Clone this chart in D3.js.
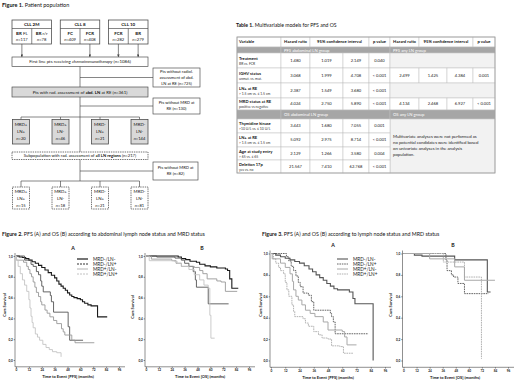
<!DOCTYPE html>
<html>
<head>
<meta charset="utf-8">
<script src="https://cdn.jsdelivr.net/npm/d3@7"></script>
<style>
  html, body { margin: 0; padding: 0; background: #fff; }
  svg { display: block; font-family: Lato, 'Open Sans', 'Liberation Sans', sans-serif; }
  text { white-space: pre; }
</style>
</head>
<body>
<svg id="fig" width="520" height="384"></svg>
<script>
// ---- Figure 1: patient flow ----
const trials = ['CLL 2M', 'CLL 8', 'CLL 10'];
const arms = [
  { trial: 'CLL 2M', arm: 'BR', extra: ' FL', n: 117, included: true },
  { trial: 'CLL 2M', arm: 'BR', extra: ' r/r', n: 78, included: false },
  { trial: 'CLL 8', arm: 'FC', extra: '', n: 409, included: false },
  { trial: 'CLL 8', arm: 'FCR', extra: '', n: 408, included: true },
  { trial: 'CLL 10', arm: 'FCR', extra: '', n: 282, included: true },
  { trial: 'CLL 10', arm: 'BR', extra: '', n: 279, included: true },
];
const firstLineN = 1086;
const excludedSteps = [
  ['Pts without radiol.', 'assessment of abd.', 'LN at RE (n=725)'],
  ['Pts without MRD at', 'RE (n=130)'],
  ['Pts without MRD at', 'RE (n=82)'],
];
const abdN = 361;
const allN = 217;
const groupLabels = [['MRD+', 'LN+'], ['MRD+', 'LN-'], ['MRD-', 'LN+'], ['MRD-', 'LN-']];
const abdGroupN = [20, 46, 21, 144];
const allGroupN = [15, 18, 21, 81];

// ---- Table 1 ----
const tableHeader = ['Variable', 'Hazard ratio', '95% confidence interval', 'p value'];
const pfsBlock = ['PFS abdominal LN group', 'PFS any LN group'];
const pfsRows = [
  { name: 'Treatment', sub: 'BR vs. FCR', abd: ['1.480', '1.019', '2.149', '0.040'], any: null },
  { name: 'IGHV status', sub: 'unmut. vs. mut.', abd: ['3.068', '1.999', '4.708', '< 0.001'], any: ['2.499', '1.425', '4.384', '0.001'] },
  { name: 'LN+ at RE', sub: '> 1.5 cm vs. \u2264 1.5 cm', abd: ['2.387', '1.549', '3.680', '< 0.001'], any: null },
  { name: 'MRD status at RE', sub: 'positive vs negative', abd: ['4.024', '2.750', '5.890', '< 0.001'], any: ['4.134', '2.468', '6.927', '< 0.001'] },
];
const osBlock = ['OS abdominal LN group', 'OS any LN group'];
const osRows = [
  { name: 'Thymidine kinase', sub: '>10 U/L vs. \u2264 10 U/L', abd: ['3.443', '1.680', '7.055', '0.001'] },
  { name: 'LN+ at RE', sub: '> 1.5 cm vs. \u2264 1.5 cm', abd: ['5.092', '2.975', '8.714', '< 0.001'] },
  { name: 'Age at study entry', sub: '> 65 vs. \u2264 65', abd: ['2.129', '1.266', '3.580', '0.004'] },
  { name: 'Deletion 17p', sub: 'yes vs. no', abd: ['21.567', '7.410', '62.768', '< 0.001'] },
];
const osAnyNote = ['Multivariate analyses were not performed as', 'no potential candidates were identified based',
  'on univariate analyses in the analysis', 'population.'];

// ---- Kaplan-Meier curves: [month, cumulative survival] ----
const groupNames = ['MRD-/LN-', 'MRD-/LN+', 'MRD+/LN-', 'MRD+/LN+'];
const monthTicks = [0, 12, 24, 36, 48, 60, 72, 84, 96];
const survTicks = [0, 0.2, 0.4, 0.6, 0.8, 1.0];

const fig2PfsNegNeg = [[0, 1], [3, 0.99], [6, 0.985], [9, 0.975], [12, 0.96], [15, 0.945], [18, 0.93], [21, 0.91], [24, 0.89], [27, 0.865], [30, 0.84], [33, 0.815], [36, 0.79], [38, 0.76], [40, 0.73], [42, 0.71], [44, 0.69], [46, 0.67], [48, 0.645], [50, 0.625], [52, 0.61], [54, 0.6], [57, 0.59], [60, 0.58], [62, 0.56], [64, 0.545], [67, 0.53], [70, 0.52], [76, 0.415], [85, 0.415]];
const fig2PfsNegPos = [[0, 1], [8, 0.96], [14, 0.92], [16, 0.9], [19, 0.85], [21, 0.82], [23, 0.76], [24, 0.71], [25.4, 0.655], [32, 0.62], [33, 0.56], [35, 0.46], [48.6, 0.32], [50, 0.19], [62.5, 0.19]];
const fig2PfsPosNeg = [[0, 1], [0.5, 0.96], [7, 0.94], [10, 0.9], [11.5, 0.87], [13, 0.83], [14.5, 0.8], [16, 0.75], [17.6, 0.7], [19, 0.65], [21, 0.61], [23, 0.56], [24, 0.53], [27, 0.48], [29, 0.45], [31.6, 0.415], [35, 0.38], [38, 0.35], [42.4, 0.3], [44, 0.27], [45.5, 0.24], [52, 0.19], [55, 0.166], [73, 0.166]];
const fig2PfsPosPos = [[0, 1], [0.5, 0.96], [2, 0.9], [4, 0.83], [6, 0.77], [8, 0.72], [10, 0.66], [12, 0.58], [13, 0.5], [14, 0.42], [15, 0.36], [16, 0.31], [18, 0.25], [20, 0.22], [22, 0.19], [25, 0.15], [28, 0.12], [31, 0.1], [34, 0.08], [38, 0.07], [42, 0.03], [42, 0.03]];

const fig2OsNegNeg = [[0, 1], [30, 0.99], [33, 0.975], [37, 0.965], [41, 0.95], [47, 0.94], [50, 0.92], [55, 0.905], [60, 0.895], [66, 0.885], [74, 0.875], [76, 0.86], [78, 0.78], [80, 0.69], [86, 0.69]];
const fig2OsNegPos = [[0, 1], [10, 0.99], [27, 0.98], [33, 0.96], [36, 0.93], [40, 0.9], [44, 0.85], [46, 0.77], [47, 0.7], [58, 0.54], [77, 0.54]];
const fig2OsPosNeg = [[0, 1], [5, 0.97], [24, 0.955], [28, 0.93], [33, 0.9], [45, 0.89], [50, 0.86], [53, 0.83], [57, 0.78], [66, 0.76], [70, 0.75], [74, 0.66], [85, 0.66]];
const fig2OsPosPos = [[0, 1], [3, 0.955], [26, 0.95], [29, 0.93], [33, 0.9], [40, 0.87], [45, 0.82], [50, 0.77], [54, 0.72], [58, 0.69], [59.5, 0.43], [60.5, 0.21], [64, 0.21]];

const fig3PfsNegNeg = [[0, 1], [4, 0.985], [8, 0.97], [12, 0.955], [16, 0.94], [20, 0.925], [24, 0.91], [28, 0.885], [32, 0.855], [35, 0.83], [38, 0.8], [41, 0.775], [44, 0.75], [47, 0.72], [50, 0.695], [53, 0.67], [56, 0.66], [66, 0.64], [69, 0.58], [70.7, 0.53], [86, 0.0], [86, 0.0]];
const fig3PfsNegPos = [[0, 1], [13, 0.97], [15, 0.93], [17, 0.88], [19, 0.84], [21, 0.79], [23, 0.73], [24.6, 0.69], [27, 0.63], [31.5, 0.61], [34, 0.55], [36, 0.47], [50, 0.44], [51, 0.41], [52.5, 0.36], [54, 0.25], [82, 0.25]];
const fig3PfsPosNeg = [[0, 1], [1, 0.95], [8, 0.91], [12, 0.87], [16, 0.81], [18, 0.74], [19, 0.66], [21, 0.6], [23, 0.565], [26, 0.52], [29, 0.47], [33, 0.44], [37, 0.41], [44, 0.36], [48, 0.285], [60, 0.27], [62, 0.22], [64, 0.146], [72, 0.146]];
const fig3PfsPosPos = [[0, 1], [2, 0.95], [4, 0.91], [6.4, 0.87], [8, 0.84], [10.6, 0.81], [12, 0.73], [13.4, 0.66], [15, 0.6], [17.6, 0.52], [19, 0.46], [20, 0.41], [27, 0.39], [29, 0.35], [31.5, 0.32], [36, 0.27], [40, 0.24], [43, 0.21], [48, 0.2], [51, 0.137], [58, 0.13], [61, 0.068], [69, 0.068]];

const fig3OsNegNeg = [[0, 1], [10, 0.985], [17, 0.975], [47, 0.94], [77, 0.64], [80, 0.64]];
const fig3OsNegPos = [[0, 1], [39, 0.94], [40, 0.84], [44, 0.8], [46, 0.78], [50, 0.72], [56, 0.625], [78, 0.625]];
const fig3OsPosNeg = [[0, 1], [24, 0.95], [47, 0.875], [56, 0.75], [84, 0.75]];
const fig3OsPosPos = [[0, 1], [36.6, 0.92], [56, 0.78], [71.6, 0.016], [71.6, 0.016]];

const INK = '#111';
const svg = d3.select('#fig');
svg.append('rect').attr('width', 520).attr('height', 384).attr('fill', '#fff');

// text with bold / italic runs
function rich(g, x, y, parts, opt = {}) {
  const t = g.append('text')
    .attr('x', x).attr('y', y)
    .attr('font-size', opt.size || 4.3)
    .attr('fill', opt.fill || INK)
    .attr('text-anchor', opt.anchor || 'start');
  if (opt.weight) t.attr('font-weight', opt.weight);
  if (typeof parts === 'string') parts = [[parts, '']];
  parts.forEach(([s, st]) => {
    const sp = t.append('tspan').text(s);
    if (st.includes('b')) sp.attr('font-weight', 'bold');
    if (st.includes('i')) sp.attr('font-style', 'italic');
  });
  return t;
}

function box(g, x, y, w, h, opt = {}) {
  return g.append('rect')
    .attr('x', x).attr('y', y).attr('width', w).attr('height', h)
    .attr('fill', opt.fill || '#fff')
    .attr('stroke', opt.stroke || '#444')
    .attr('stroke-width', opt.sw || 0.65)
    .attr('stroke-dasharray', opt.dash || null);
}

function line(g, x1, y1, x2, y2, arrow) {
  const l = g.append('line')
    .attr('x1', x1).attr('y1', y1).attr('x2', x2).attr('y2', y2)
    .attr('stroke', '#444').attr('stroke-width', 0.65);
  if (arrow) l.attr('marker-end', 'url(#arr)');
  return l;
}

svg.append('defs').append('marker')
  .attr('id', 'arr').attr('viewBox', '0 0 6 6').attr('refX', 6).attr('refY', 3)
  .attr('markerWidth', 4).attr('markerHeight', 4).attr('orient', 'auto')
  .append('path').attr('d', 'M0,0L6,3L0,6Z').attr('fill', '#444');

// ================= Figure 1 =================
function drawFlow() {
  const g = svg.append('g');
  rich(g, 2, 7, [['Figure 1.', 'b'], [' Patient population', '']], { size: 5.5 });

  const left = 12, right = 148, mid = (left + right) / 2;
  const trialW = 39.5;
  const trialX = d3.scalePoint().domain(trials).range([left, right - trialW]);
  const headTop = 20, headH = 8.5, armH = 15.5;
  const firstTop = 57, firstH = 9.5;

  trials.forEach((t) => {
    const x0 = trialX(t);
    box(g, x0, headTop, trialW, headH + armH, { sw: 0.75 });
    line(g, x0, headTop + headH, x0 + trialW, headTop + headH);
    rich(g, x0 + trialW / 2, headTop + 6, [[t, 'b']], { anchor: 'middle', size: 4.5 });
    const tArms = arms.filter((a) => a.trial === t);
    const aw = trialW / tArms.length;
    tArms.forEach((a, i) => {
      const ax = x0 + i * aw;
      if (i > 0) line(g, ax, headTop + headH, ax, headTop + headH + armH);
      const cx = ax + aw / 2;
      rich(g, cx, headTop + headH + 6, [[a.arm, 'b'], [a.extra, '']], { anchor: 'middle', size: 4.4 });
      rich(g, cx, headTop + headH + 12.5, [['n', 'i'], ['=' + a.n, '']], { anchor: 'middle', size: 4.1 });
      if (a.included) line(g, cx, headTop + headH + armH, cx, firstTop, true);
    });
  });

  box(g, left, firstTop, right - left, firstH);
  rich(g, mid, firstTop + 6.3, [['First line pts receiving ', ''], ['chemoimmunotherapy', 'i'], [` (n=${firstLineN})`, '']],
    { anchor: 'middle', size: 4.35 });

  const sideX = 153, sideW = 47;
  // step 1
  const abdTop = 87, abdH = 10;
  line(g, mid, firstTop + firstH, mid, abdTop);
  box(g, sideX, 68, sideW, 19);
  line(g, mid, 77.5, sideX, 77.5);
  excludedSteps[0].forEach((s, i) => rich(g, sideX + sideW / 2, 73.3 + i * 5.7, s, { anchor: 'middle', size: 4.1 }));

  box(g, left, abdTop, right - left, abdH, { fill: '#d9d9d9' });
  rich(g, mid, abdTop + 6.6, [['Pts with rad. assessment of ', ''], ['abd. LN', 'b'], [` at RE (n=${abdN})`, '']],
    { anchor: 'middle', size: 4.35 });

  // step 2
  const busY = 117, grpTop = 119.5, grpH = 24.5, grpW = 17;
  line(g, mid, abdTop + abdH, mid, 152);
  box(g, sideX, 98, sideW, 16);
  line(g, mid, 106, sideX, 106);
  excludedSteps[1].forEach((s, i) => rich(g, sideX + sideW / 2, 104.2 + i * 5.7, s, { anchor: 'middle', size: 4.1 }));

  const gx = d3.scalePoint().domain(d3.range(4)).range([left + grpW / 2 + 0.5, right - grpW / 2]);
  line(g, gx(0), busY, gx(3), busY);
  abdGroupN.forEach((n, i) => {
    const cx = gx(i);
    line(g, cx, busY, cx, grpTop);
    box(g, cx - grpW / 2, grpTop, grpW, grpH, { fill: '#d9d9d9', sw: 0.75 });
    rich(g, cx, grpTop + 6, groupLabels[i][0], { anchor: 'middle', size: 4.4 });
    rich(g, cx, grpTop + 13.5, groupLabels[i][1], { anchor: 'middle', size: 4.4 });
    rich(g, cx, grpTop + 20.8, [['n', 'i'], ['=' + n, '']], { anchor: 'middle', size: 4.1 });
  });

  // step 3
  const subTop = 152, subH = 7.5;
  box(g, left, subTop, right - left, subH, { dash: '1.4,0.9', sw: 0.75 });
  rich(g, mid, subTop + 5.3, [['Subpopulation with rad. assessment of ', ''], ['all LN regions', 'b'], [` (n=${allN})`, '']],
    { anchor: 'middle', size: 4.2 });
  const bus2 = 181, grp2Top = 187, grp2H = 22;
  line(g, mid, subTop + subH, mid, bus2);
  box(g, sideX, 162, 45, 18);
  line(g, mid, 171, sideX, 171);
  excludedSteps[2].forEach((s, i) => rich(g, sideX + 22.5, 168.8 + i * 6, s, { anchor: 'middle', size: 4.1 }));

  line(g, gx(0), bus2, gx(3), bus2);
  allGroupN.forEach((n, i) => {
    const cx = gx(i);
    line(g, cx, bus2, cx, grp2Top);
    box(g, cx - grpW / 2, grp2Top, grpW, grp2H, { dash: '1.4,0.9', sw: 0.75 });
    rich(g, cx, grp2Top + 6, groupLabels[i][0], { anchor: 'middle', size: 4.4 });
    rich(g, cx, grp2Top + 12.7, groupLabels[i][1], { anchor: 'middle', size: 4.4 });
    rich(g, cx, grp2Top + 19.8, [['n', 'i'], ['=' + n, '']], { anchor: 'middle', size: 4.1 });
  });
}

// ================= Table 1 =================
function drawTable() {
  const g = svg.append('g');
  rich(g, 236, 27, [['Table 1.', 'b'], [' Multivariable models for PFS and OS', '']], { size: 5.1 });
  const cols = [237, 281, 310, 343, 369, 390, 419, 447, 473, 495];
  const rows = [37, 47, 53, 68, 83, 98, 110, 119, 133, 147, 160, 173];
  const grid = '#bfbfbf', band = '#a6a6a6', blank = '#f2f2f2';
  const cx = (i) => (cols[i] + cols[i + 1]) / 2;
  const cell = (c0, c1, r0, r1, fill) =>
    g.append('rect').attr('x', cols[c0]).attr('y', rows[r0])
      .attr('width', cols[c1] - cols[c0]).attr('height', rows[r1] - rows[r0])
      .attr('fill', fill).attr('stroke', grid).attr('stroke-width', 0.5);

  // header: variable + two groups of (HR, CI spanning two columns, p)
  const hy = rows[0] + 6.3;
  cell(0, 1, 0, 1, '#fff');
  rich(g, cols[0] + 2, hy, tableHeader[0], { size: 4.2, weight: 'bold' });
  [1, 5].forEach((c) => {
    [[c, c + 1, 1], [c + 1, c + 3, 2], [c + 3, c + 4, 3]].forEach(([a, b, k]) => {
      cell(a, b, 0, 1, '#fff');
      rich(g, (cols[a] + cols[b]) / 2, hy, tableHeader[k], { size: 4.2, weight: 'bold', anchor: 'middle' });
    });
  });

  function bandRow(r, labels) {
    cell(0, 1, r, r + 1, band); cell(1, 5, r, r + 1, band); cell(5, 9, r, r + 1, band);
    const y = (rows[r] + rows[r + 1]) / 2 + 1.5;
    rich(g, cols[1] + 3, y, labels[0], { size: 4.2, fill: '#fff' });
    rich(g, cols[5] + 3, y, labels[1], { size: 4.2, fill: '#fff' });
  }
  function varCell(r, d) {
    cell(0, 1, r, r + 1, '#fff');
    const mid = (rows[r] + rows[r + 1]) / 2;
    rich(g, cols[0] + 2, mid - 0.6, d.name, { size: 4.1, weight: 'bold' });
    rich(g, cols[0] + 2, mid + 4.2, d.sub, { size: 3.4, fill: '#333' });
  }
  function values(r, vals, c0) {
    const y = (rows[r] + rows[r + 1]) / 2 + 1.4;
    vals.forEach((v, i) => {
      cell(c0 + i, c0 + i + 1, r, r + 1, '#fff');
      rich(g, cx(c0 + i), y, v, { size: 4.1, anchor: 'middle', fill: '#222' });
    });
  }

  bandRow(1, pfsBlock);
  pfsRows.forEach((d, i) => {
    const r = 2 + i;
    varCell(r, d);
    values(r, d.abd, 1);
    if (d.any) values(r, d.any, 5);
    else cell(5, 9, r, r + 1, blank);
  });
  bandRow(6, osBlock);
  cell(5, 9, 7, 11, blank);
  osRows.forEach((d, i) => {
    const r = 7 + i;
    varCell(r, d);
    values(r, d.abd, 1);
  });
  osAnyNote.forEach((s, i) => rich(g, cols[5] + 3, 138.2 + i * 5.9, s, { size: 4.3, fill: '#222' }));
  g.append('rect').attr('x', cols[0]).attr('y', rows[0])
    .attr('width', cols[9] - cols[0]).attr('height', rows[11] - rows[0])
    .attr('fill', 'none').attr('stroke', '#999').attr('stroke-width', 0.8);
}

// ================= Kaplan-Meier panels =================
function drawKM(cfg) {
  const g = svg.append('g');
  const x = d3.scaleLinear().domain([0, 96]).range([cfg.x0, cfg.x1]);
  const y = d3.scaleLinear().domain([0, 1]).range([cfg.yBot, cfg.yTop]);
  const axisY = cfg.yBot + 6.8;
  const axisX = cfg.x0 - 1;

  const xa = g.append('g').attr('transform', `translate(0,${axisY})`)
    .call(d3.axisBottom(x).tickValues(monthTicks).tickSize(1.3).tickPadding(1).tickSizeOuter(0));
  const ya = g.append('g').attr('transform', `translate(${axisX},0)`)
    .call(d3.axisLeft(y).tickValues(survTicks).tickSize(1.3).tickPadding(1).tickSizeOuter(0)
      .tickFormat((d) => d.toFixed(1).replace('.', ',')));
  [xa, ya].forEach((a) => {
    a.attr('font-family', null);
    a.selectAll('path, line').attr('stroke', '#333').attr('stroke-width', 0.55);
    a.selectAll('text').attr('font-size', 3.1).attr('fill', '#222').attr('font-weight', 'bold');
  });
  xa.select('path.domain').attr('d', `M${axisX},0H${cfg.x1 + 6}`);
  ya.select('path.domain').attr('d', `M0,${axisY}V${cfg.yTop - 3}`);

  const path = d3.line().x((d) => x(d[0])).y((d) => y(d[1])).curve(d3.curveStepAfter);
  cfg.series.forEach((s, i) => {
    const st = cfg.styles[i];
    g.append('path').datum(s).attr('d', path)
      .attr('fill', 'none').attr('stroke', st.color).attr('stroke-width', st.width)
      .attr('stroke-dasharray', st.dash || null);
  });

  rich(g, cfg.letterX, cfg.yTop - 6.5, cfg.letter, { size: 5.2, weight: 'bold', anchor: 'middle' });
  rich(g, cfg.titleX, cfg.yBot + 18, cfg.xTitle, { size: 4, weight: 'bold', anchor: 'middle' });
  rich(g, 0, 0, 'Cum Survival', { size: 4, weight: 'bold', anchor: 'middle' })
    .attr('transform', `translate(${cfg.yLabelX},${cfg.yLabelY}) rotate(-90)`);

  if (cfg.legend) {
    groupNames.forEach((name, i) => {
      const st = cfg.legend[i];
      const ly = cfg.legendY + i * 5;
      g.append('line').attr('x1', cfg.legendX).attr('x2', cfg.legendX + 11).attr('y1', ly).attr('y2', ly)
        .attr('stroke', st.color).attr('stroke-width', st.width).attr('stroke-dasharray', st.dash || null);
      rich(g, cfg.legendX + 16, ly + 1.6, name, { size: 4.7, fill: '#222' });
    });
  }
}

drawFlow();
drawTable();

// figure titles
rich(svg, 2, 235.5, [['Figure 2.', 'b'], [' PFS (A) and OS (B) according to abdominal lymph node status and MRD status', '']], { size: 5.3 });
rich(svg, 262, 235.5, [['Figure 3.', 'b'], [' PFS (A) and OS (B) according to lymph node status and MRD status', '']], { size: 5.3 });

const fig2Styles = [
  { color: '#1a1a1a', width: 1.1 },
  { color: '#555', width: 0.9 },
  { color: '#999', width: 0.9 },
  { color: '#c4c4c4', width: 0.9 },
];
const fig2Legend = [
  { color: '#1a1a1a', width: 1.2 },
  { color: '#333', width: 1.2, dash: '2,1' },
  { color: '#aaa', width: 0.9 },
  { color: '#bbb', width: 0.9, dash: '2,1' },
];
const fig3Styles = [
  { color: '#555', width: 1.1 },
  { color: '#555', width: 0.9, dash: '1.6,0.8' },
  { color: '#a8a8a8', width: 1 },
  { color: '#a8a8a8', width: 0.9, dash: '1.6,0.8' },
];

drawKM({ x0: 16, x1: 119, yTop: 256, yBot: 360, letter: 'A', letterX: 73, titleX: 68, yLabelX: 6, yLabelY: 305,
  xTitle: 'Time to Event [PFS] (months)', series: [fig2PfsNegNeg, fig2PfsNegPos, fig2PfsPosNeg, fig2PfsPosPos],
  styles: fig2Styles, legend: fig2Legend, legendX: 77, legendY: 259 });
drawKM({ x0: 146, x1: 249, yTop: 256, yBot: 360, letter: 'B', letterX: 202, titleX: 200, yLabelX: 134, yLabelY: 307,
  xTitle: 'Time to Event [OS] (months)', series: [fig2OsNegNeg, fig2OsNegPos, fig2OsPosNeg, fig2OsPosPos],
  styles: fig2Styles });
drawKM({ x0: 271, x1: 385, yTop: 253.5, yBot: 360.5, letter: 'A', letterX: 333, titleX: 328, yLabelX: 262, yLabelY: 305,
  xTitle: 'Time to Event [PFS] (months)', series: [fig3PfsNegNeg, fig3PfsNegPos, fig3PfsPosNeg, fig3PfsPosPos],
  styles: fig3Styles, legend: fig3Styles, legendX: 337, legendY: 259 });
drawKM({ x0: 403.5, x1: 508, yTop: 253.5, yBot: 360.5, letter: 'B', letterX: 453, titleX: 455, yLabelX: 392, yLabelY: 305,
  xTitle: 'Time to Event [OS] (months)', series: [fig3OsNegNeg, fig3OsNegPos, fig3OsPosNeg, fig3OsPosPos],
  styles: fig3Styles });
</script>
</body>
</html>
